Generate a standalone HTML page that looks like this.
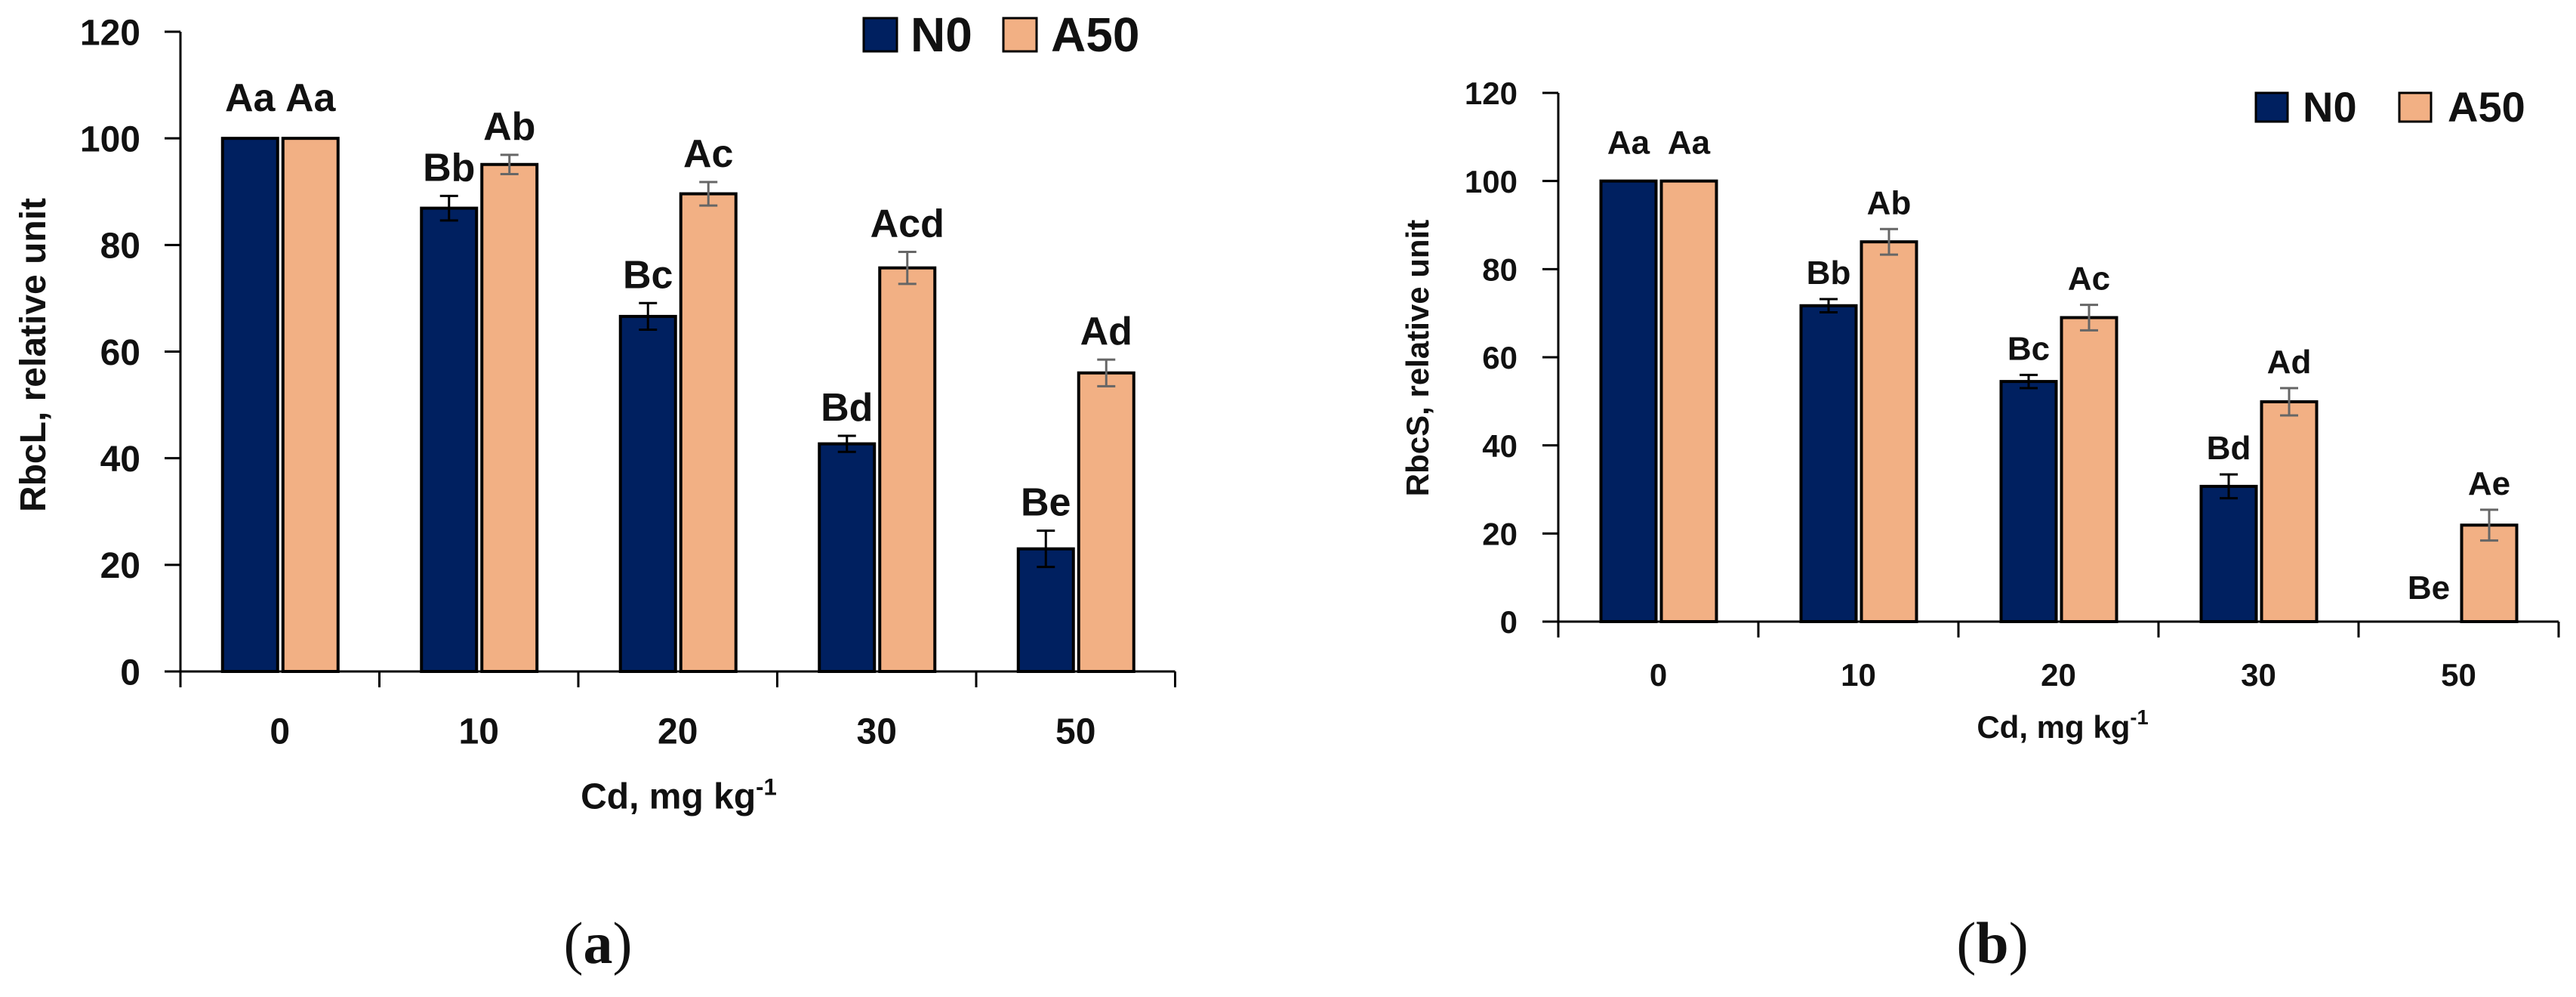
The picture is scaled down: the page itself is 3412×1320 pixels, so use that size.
<!DOCTYPE html>
<html><head><meta charset="utf-8">
<style>
html,body{margin:0;padding:0;background:#fff;}
svg{display:block;}
text{font-family:"Liberation Sans",sans-serif;font-weight:bold;fill:#111;}
</style></head>
<body>
<svg id="fig" width="3412" height="1320" viewBox="0 0 3412 1320" xmlns="http://www.w3.org/2000/svg">
<text x="792" y="1275" text-anchor="middle" style="font-family:'Liberation Serif',serif;font-weight:normal;font-size:78px">(<tspan font-weight="bold">a</tspan>)</text>
<text x="2639" y="1275" text-anchor="middle" style="font-family:'Liberation Serif',serif;font-weight:normal;font-size:78px">(<tspan font-weight="bold">b</tspan>)</text>
</svg>
<script>
const categories = ["0","10","20","30","50"];
const yTicks = [0,20,40,60,80,100,120];
const rbcLN0 = [100,86.9,66.6,42.7,23];
const rbcLN0Err = [0,2.3,2.5,1.5,3.4];
const rbcLA50 = [100,95.1,89.6,75.7,56];
const rbcLA50Err = [0,1.8,2.2,3,2.5];
const rbcLN0Labels = ["Aa","Bb","Bc","Bd","Be"];
const rbcLA50Labels = ["Aa","Ab","Ac","Acd","Ad"];
const rbcSN0 = [100,71.7,54.5,30.7,0];
const rbcSN0Err = [0,1.5,1.5,2.7,0];
const rbcSA50 = [100,86.2,69,49.9,21.9];
const rbcSA50Err = [0,2.9,2.9,3.1,3.5];
const rbcSN0Labels = ["Aa","Bb","Bc","Bd","Be"];
const rbcSA50Labels = ["Aa","Ab","Ac","Ad","Ae"];

const NS="http://www.w3.org/2000/svg";
const svg=document.getElementById('fig');
function mk(tag,attrs,parent){const e=document.createElementNS(NS,tag);for(const k in attrs)e.setAttribute(k,attrs[k]);(parent||svg).appendChild(e);return e;}

function chart(cfg){
  const g=mk('g',{});
  
  
  const y=v=>cfg.y0-(v/120)*(cfg.y0-cfg.y120);
  const cw=cfg.cw;
  const xEnd=cfg.x0+cw*categories.length;
  yTicks.forEach(t=>{
    const l=mk('line',{x1:cfg.x0-21,x2:cfg.x0,y1:y(t),y2:y(t),stroke:'#000','stroke-width':3},g);
    
    
    const tx=mk('text',{x:cfg.tickRight,y:y(t)+cfg.tickFs*0.36,'text-anchor':'end','font-size':cfg.tickFs},g);
    tx.textContent=t;
    
    
  });
  const ya=mk('line',{x1:cfg.x0,x2:cfg.x0,y1:y(120),y2:cfg.y0,stroke:'#000','stroke-width':3},g);
  
  
  const xa=mk('line',{x1:cfg.x0-21,x2:xEnd,y1:cfg.y0,y2:cfg.y0,stroke:'#000','stroke-width':3},g);
  
  
  for(let i=0;i<=categories.length;i++){
    const l=mk('line',{x1:cfg.x0+i*cw,x2:cfg.x0+i*cw,y1:cfg.y0,y2:cfg.y0+21,stroke:'#000','stroke-width':3},g);
    
    
  }
  categories.forEach((c,i)=>{
    const cx=cfg.x0+cw*(i+0.5);
    const tx=mk('text',{x:cx,y:cfg.xLabY+cfg.tickFs*0.36,'text-anchor':'middle','font-size':cfg.tickFs},g);
    tx.textContent=c;
    
    
    const series=[[cfg.n0,cfg.n0e,cfg.n0l,'#002060','#000',-76],[cfg.a50,cfg.a50e,cfg.a50l,'#F2B084','#666',4]];
    series.forEach((s,si)=>{
      const v=s[0][i],e=s[1][i],bx=cx+s[5],bw=73;
      if(v>0){
        const r=mk('rect',{x:bx,y:y(v),width:bw,height:cfg.y0-y(v),fill:s[3],stroke:'#000','stroke-width':4},g);
        
        
      }
      if(e>0){
        const ex=bx+bw/2;
        const el=mk('path',{d:`M${ex},${y(v+e)}V${y(v-e)}M${ex-12},${y(v+e)}H${ex+12}M${ex-12},${y(v-e)}H${ex+12}`,stroke:s[4],'stroke-width':3,fill:'none'},g);
        
        
      }
      const top=y(v+e);
      let ly=v>0?top-20-(e===0?16:0):cfg.y0-30;
      const lt=mk('text',{x:bx+bw/2,y:ly,'text-anchor':'middle','font-size':cfg.labFs},g);
      lt.textContent=s[2][i];
      
      
    });
  });
  const yt=mk('text',{x:0,y:0,'text-anchor':'middle','font-size':cfg.titleFs,transform:`translate(${cfg.yTitleX},${cfg.yTitleY}) rotate(-90)`},g);
  yt.textContent=cfg.yTitle;
  
  
  const xt=mk('text',{x:cfg.xTitleX,y:cfg.xTitleY+cfg.titleFs*0.36,'text-anchor':'middle','font-size':cfg.titleFs},g);
  xt.innerHTML='Cd, mg kg<tspan dy="-18" font-size="'+(cfg.titleFs*0.65)+'">-1</tspan>';
  
  
  const L=cfg.leg;
  const b1=mk('rect',{x:L.x1,y:L.y,width:L.bw,height:L.bh,fill:'#002060',stroke:'#000','stroke-width':3},g);
  
  
  const t1=mk('text',{x:L.t1,y:L.y+L.bh,'font-size':L.fs},g);
  t1.textContent='N0';
  
  
  const b2=mk('rect',{x:L.x2,y:L.y,width:L.bw,height:L.bh,fill:'#F2B084',stroke:'#000','stroke-width':3},g);
  
  
  const t2=mk('text',{x:L.t2,y:L.y+L.bh,'font-size':L.fs},g);
  t2.textContent='A50';
  
  
}

chart({prefix:'rbcl',x0:239,cw:263.5,y0:889,y120:42,tickRight:186,tickFs:48,labFs:52,titleFs:48,
  n0:rbcLN0,n0e:rbcLN0Err,n0l:rbcLN0Labels,a50:rbcLA50,a50e:rbcLA50Err,a50l:rbcLA50Labels,
  xLabY:967,yTitle:'RbcL, relative unit',yTitleX:60,yTitleY:470,xTitleX:899,xTitleY:1053,
  leg:{x1:1144,x2:1329,t1:1206,t2:1392,y:24,bw:44,bh:44,fs:64}});
chart({prefix:'rbcs',x0:2064,cw:265,y0:823,y120:123,tickRight:2010,tickFs:42,labFs:44,titleFs:42,
  n0:rbcSN0,n0e:rbcSN0Err,n0l:rbcSN0Labels,a50:rbcSA50,a50e:rbcSA50Err,a50l:rbcSA50Labels,
  xLabY:893,yTitle:'RbcS, relative unit',yTitleX:1892,yTitleY:474,xTitleX:2732,xTitleY:962,
  leg:{x1:2988,x2:3178,t1:3050,t2:3242,y:123,bw:42,bh:38,fs:56}});
</script>
</body></html>
